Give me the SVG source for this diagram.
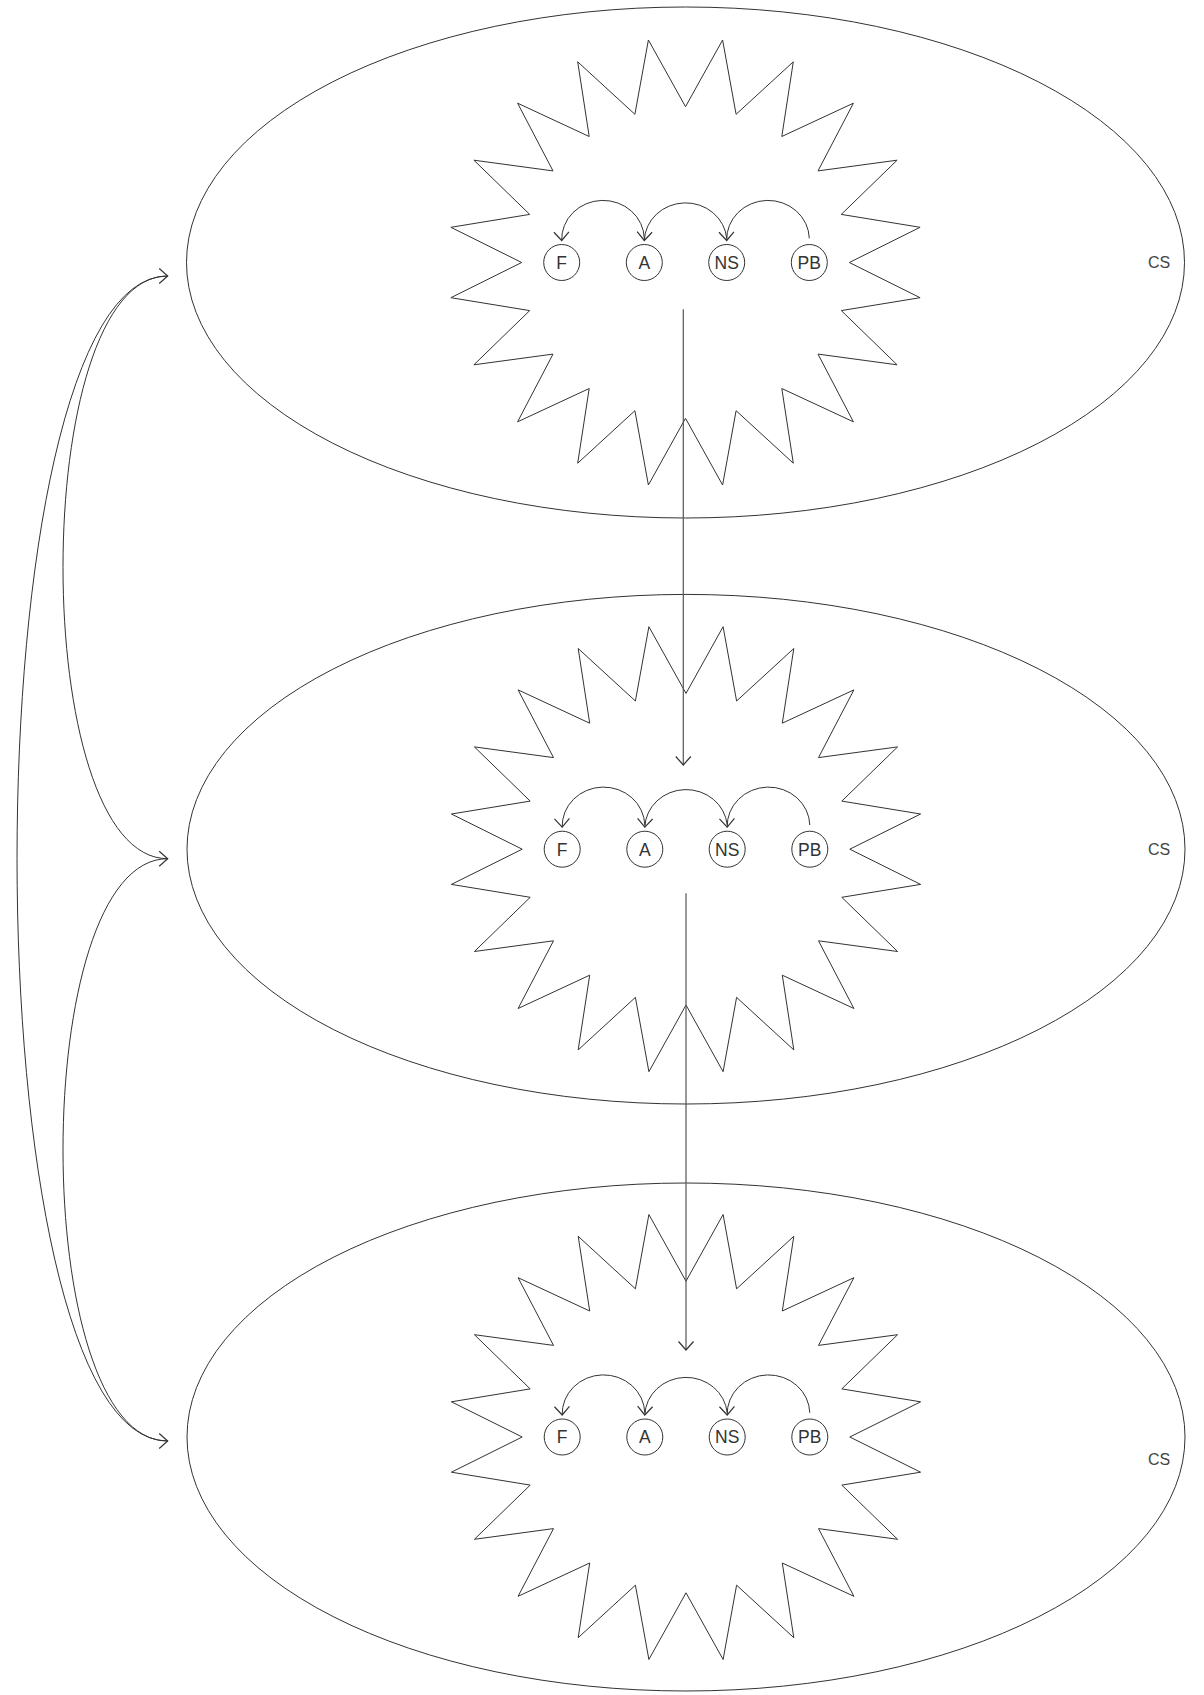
<svg xmlns="http://www.w3.org/2000/svg" xmlns:xlink="http://www.w3.org/1999/xlink" width="1204" height="1695" viewBox="0 0 1204 1695">
<style>
.sh{fill:none;stroke:#333;stroke-width:1}
.nd{fill:none;stroke:#333;stroke-width:1}
.ed{fill:none;stroke:#333;stroke-width:1;marker-end:url(#arr)}
.vl{fill:none;stroke:#555;stroke-width:1.2;marker-end:url(#arr)}
.lb{font-family:"Liberation Sans",Arial,sans-serif;font-size:17.5px;fill:#333;text-anchor:middle}
.cs{font-family:"Liberation Sans",Arial,sans-serif;font-size:16px;fill:#444;text-anchor:middle}
</style>
<defs>
<marker id="arr" viewBox="-11 -10 13 20" refX="0" refY="0" markerWidth="13" markerHeight="20" markerUnits="userSpaceOnUse" orient="auto">
<path d="M-8.5,-7.5 L0,0 L-8.5,7.5" fill="none" stroke="#333" stroke-width="1.2"/>
</marker>
<polygon id="star" class="sh" points="0,-155.8 37.1,-222.5 50.6,-148.2 107.8,-200.7 96.3,-126 167.9,-159.3 132.5,-91.6 211.6,-102.3 155.8,-48.1 234.6,-35.2 163.8,0 234.6,35.2 155.8,48.1 211.6,102.3 132.5,91.6 167.9,159.3 96.3,126 107.8,200.7 50.6,148.2 37.1,222.5 0,155.8 -37.1,222.5 -50.6,148.2 -107.8,200.7 -96.3,126 -167.9,159.3 -132.5,91.6 -211.6,102.3 -155.8,48.1 -234.6,35.2 -163.8,0 -234.6,-35.2 -155.8,-48.1 -211.6,-102.3 -132.5,-91.6 -167.9,-159.3 -96.3,-126 -107.8,-200.7 -50.6,-148.2 -37.1,-222.5"/>
</defs>
<rect width="1204" height="1695" fill="#fff"/>

<g id="cs1">
<ellipse class="sh" cx="685.5" cy="262.5" rx="499" ry="255.5"/>
<use xlink:href="#star" href="#star" transform="translate(685.5,262.5)"/>
<text class="cs" x="1159" y="268">CS</text>
<g id="cs1-F"><circle class="nd" cx="561.7" cy="262.5" r="18"/><text class="lb" x="561.7" y="268.8">F</text></g>
<g id="cs1-A"><circle class="nd" cx="644.3" cy="262.5" r="18"/><text class="lb" x="644.3" y="268.8">A</text></g>
<g id="cs1-NS"><circle class="nd" cx="726.7" cy="262.5" r="18"/><text class="lb" x="726.7" y="268.8">NS</text></g>
<g id="cs1-PB"><circle class="nd" cx="809.3" cy="262.5" r="18"/><text class="lb" x="809.3" y="268.8">PB</text></g>
</g>

<g id="cs2">
<ellipse class="sh" cx="686" cy="849.2" rx="499" ry="254.8"/>
<use xlink:href="#star" href="#star" transform="translate(686,849.2)"/>
<text class="cs" x="1159" y="855">CS</text>
<g id="cs2-F"><circle class="nd" cx="562.2" cy="849.2" r="18"/><text class="lb" x="562.2" y="855.5">F</text></g>
<g id="cs2-A"><circle class="nd" cx="644.8" cy="849.2" r="18"/><text class="lb" x="644.8" y="855.5">A</text></g>
<g id="cs2-NS"><circle class="nd" cx="727.2" cy="849.2" r="18"/><text class="lb" x="727.2" y="855.5">NS</text></g>
<g id="cs2-PB"><circle class="nd" cx="809.8" cy="849.2" r="18"/><text class="lb" x="809.8" y="855.5">PB</text></g>
</g>

<g id="cs3">
<ellipse class="sh" cx="686" cy="1437" rx="499" ry="254"/>
<use xlink:href="#star" href="#star" transform="translate(686,1437)"/>
<text class="cs" x="1159" y="1465">CS</text>
<g id="cs3-F"><circle class="nd" cx="562.2" cy="1437" r="18"/><text class="lb" x="562.2" y="1443.3">F</text></g>
<g id="cs3-A"><circle class="nd" cx="644.8" cy="1437" r="18"/><text class="lb" x="644.8" y="1443.3">A</text></g>
<g id="cs3-NS"><circle class="nd" cx="727.2" cy="1437" r="18"/><text class="lb" x="727.2" y="1443.3">NS</text></g>
<g id="cs3-PB"><circle class="nd" cx="809.8" cy="1437" r="18"/><text class="lb" x="809.8" y="1443.3">PB</text></g>
</g>

<g id="connectors">
<path class="ed" d="M809.3,238.3 A41.3,39 0 0 0 726.7,240.5"/>
<path class="ed" d="M726.7,238.3 A41.3,39 0 0 0 644.3,240.5"/>
<path class="ed" d="M644.3,238.3 A41.3,39 0 0 0 561.7,240.5"/>
<path class="ed" d="M809.8,825 A41.3,39 0 0 0 727.2,827.2"/>
<path class="ed" d="M727.2,825 A41.3,39 0 0 0 644.8,827.2"/>
<path class="ed" d="M644.8,825 A41.3,39 0 0 0 562.2,827.2"/>
<path class="ed" d="M809.8,1412.8 A41.3,39 0 0 0 727.2,1415"/>
<path class="ed" d="M727.2,1412.8 A41.3,39 0 0 0 644.8,1415"/>
<path class="ed" d="M644.8,1412.8 A41.3,39 0 0 0 562.2,1415"/>
<path class="vl" d="M683.3,309.3 L683.3,765"/>
<path class="vl" d="M686,893.3 L686,1350"/>
<path class="ed" d="M167.7,276 C28.1,276 28.1,858.7 167.7,858.7"/>
<path class="ed" d="M167.7,858.7 C28.1,858.7 28.1,1441 167.7,1441"/>
<path class="ed" d="M167.7,1441 C-33.2,1441 -33.2,276 167.7,276"/>
</g>
</svg>
